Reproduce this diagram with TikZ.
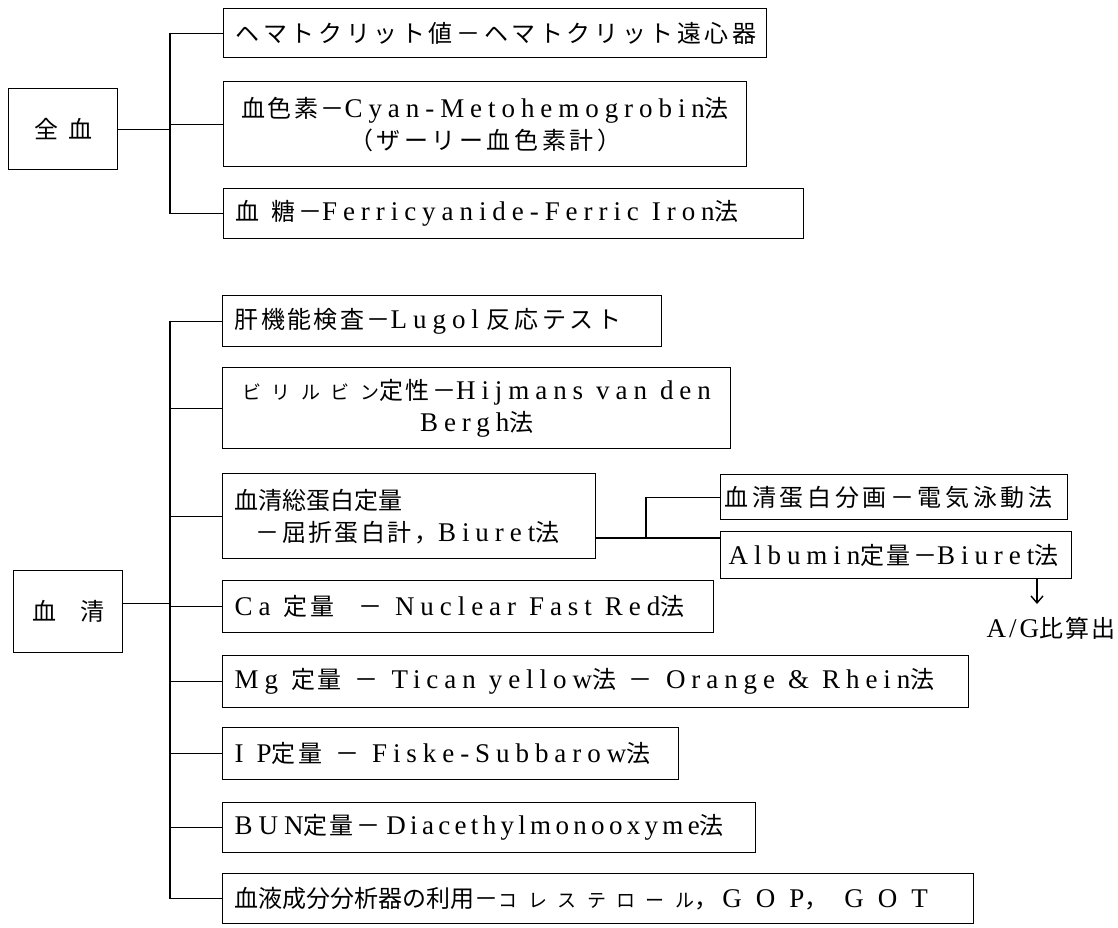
\documentclass[tikz,border=0pt]{standalone}
\usepackage{fontspec}
\setmainfont[LetterSpace=22]{Liberation Serif}
\newfontfamily\latn{Liberation Serif}
\newfontfamily\latb[LetterSpace=16]{Liberation Serif}
\newfontfamily\jpfont[LetterSpace=10]{Noto Sans CJK JP}
\newfontfamily\jpwfont[LetterSpace=15]{Noto Sans CJK JP}
\newfontfamily\jpnfont{Noto Sans CJK JP}
\newfontfamily\jpsfont[LetterSpace=55]{Noto Sans CJK JP}
\newcommand\J[1]{{\jpfont\fontsize{24}{32}\selectfont #1}}
\newcommand\Jw[1]{{\jpwfont\fontsize{24}{32}\selectfont #1}}
\newcommand\Js[2]{{\jpnfont\fontsize{#1}{32}\selectfont #2}}
\newcommand\Jk[1]{{\jpsfont\fontsize{19}{32}\selectfont #1}}
\newcommand\wsp{\hspace{13pt}}
\usetikzlibrary{arrows.meta}
\begin{document}
\begin{tikzpicture}[x=1pt,y=-1pt,
  box/.style={draw, line width=1.4pt, anchor=north west, inner xsep=12pt, inner ysep=0pt,
    font=\fontsize{27}{32}\selectfont, align=left},
  cbox/.style={box, align=center},
  link/.style={line width=1.4pt},
  arr/.style={line width=1.4pt, -{Straight Barb[length=7pt,width=12pt]}}]
\useasboundingbox (0,0) rectangle (1118,927);
% ---------- whole blood ----------
\node[box, align=center, inner xsep=0pt, minimum width=109pt, minimum height=81pt] (zen) at (8,88) {\J{全\hspace{10pt}血}};
\node[box, minimum width=543pt, text width=519pt, minimum height=49pt] (b1) at (223,8)
  {\mbox{\Jw{ヘマトクリット値－ヘマトクリット遠心器}}};
\node[cbox, minimum width=523pt, text width=499pt, minimum height=85pt] (b2) at (223,81)
  {\mbox{\J{血色素－}Cyan-Metohemogrobin\J{法}}\\\mbox{\Jw{（ザーリー血色素計）}}};
\node[box, minimum width=580pt, text width=556pt, minimum height=50pt] (b3) at (223,188)
  {\mbox{\J{血\hspace{12pt}糖－}Ferricyanide-Ferric\wsp Iron\J{法}}};
\coordinate (tv) at (170,0);
\draw[link] (zen.east) -- (zen.east -| tv);
\draw[link] (b1.west) -- (b1.west -| tv) -- (b3.west -| tv) -- (b3.west);
\draw[link] (b2.west) -- (b2.west -| tv);
% ---------- serum ----------
\node[box, align=center, inner xsep=0pt, minimum width=109pt, minimum height=82pt] (sei) at (13,570) {\J{血\hspace{24pt}清}};
\node[box, minimum width=439pt, text width=415pt, minimum height=51pt] (s1) at (222,295)
  {\mbox{\J{肝機能検査－}Lugol\hspace{8pt}\Jw{反応テスト}}};
\node[cbox, minimum width=508pt, text width=484pt, minimum height=81pt] (s2) at (222,367)
  {\mbox{\Jk{ビリルビン}\J{定性－}Hijmans\wsp van\wsp den}\\\mbox{Bergh\J{法}}};
\node[box, minimum width=373pt, text width=349pt, minimum height=85pt] (s3) at (222,473)
  {\mbox{\Js{24}{血清総蛋白定量}}\\\mbox{\hspace{21pt}\J{－屈折蛋白計，}Biuret\J{法}}};
\node[box, minimum width=491pt, text width=467pt, minimum height=52pt] (s4) at (222,580)
  {\mbox{Ca\wsp\J{定量}\hspace{24pt}\J{－}\wsp Nuclear\wsp Fast\wsp Red\J{法}}};
\node[box, minimum width=746pt, text width=722pt, minimum height=52pt] (s5) at (222,655)
  {\mbox{Mg\wsp\J{定量}\wsp\J{－}\wsp Tican\wsp yellow\J{法}\wsp\J{－}\wsp Orange\wsp\&\wsp Rhein\J{法}}};
\node[box, minimum width=456pt, text width=432pt, minimum height=52pt] (s6) at (222,727)
  {\mbox{I\wsp P\J{定量}\wsp\J{－}\wsp Fiske-Subbarow\J{法}}};
\node[box, minimum width=533pt, text width=509pt, minimum height=50pt] (s7) at (222,802)
  {\mbox{BUN\J{定量－}\hspace{6pt}{\latb Diacethylmonooxyme}\J{法}}};
\node[box, minimum width=751pt, text width=727pt, minimum height=50pt] (s8) at (222,873)
  {\mbox{\Js{24}{血液成分分析器の利用－}\Jk{コレステロール}\J{，}\hspace{4pt}G\hspace{14pt}O\hspace{14pt}P\J{，}\hspace{16pt}G\hspace{14pt}O\hspace{14pt}T}};
\coordinate (sv) at (170,0);
\draw[link] ([yshift=8pt]sei.east) -- ([yshift=8pt]sei.east -| sv);
\draw[link] (s1.west) -- (s1.west -| sv) -- (s8.west -| sv) -- (s8.west);
\foreach \n in {s2,s3,s4,s5,s6,s7} \draw[link] (\n.west) -- (\n.west -| sv);
% ---------- protein sub-branch ----------
\node[box, inner xsep=4pt, minimum width=347pt, text width=339pt, minimum height=45pt] (r1) at (720,474)
  {\mbox{\Jw{血清蛋白分画－電気泳動法}}};
\node[box, inner xsep=8pt, minimum width=351pt, text width=335pt, minimum height=47pt] (r2) at (720,531)
  {\mbox{Albumin\J{定量－}Biuret\J{法}}};
\coordinate (j) at (646,538);
\draw[link] (s3.east |- j) -- (r2.west |- j);
\draw[link] (j) |- (r1.west);
\node[anchor=east, inner sep=0pt] (ag) at (1116,628) {\mbox{\latn\fontsize{27}{32}\selectfont A\hspace{3pt}/\hspace{3pt}G\J{比算出}}};
\coordinate (tip) at (1037,604);
\draw[arr] (r2.south -| tip) -- (tip);
\end{tikzpicture}
\end{document}
